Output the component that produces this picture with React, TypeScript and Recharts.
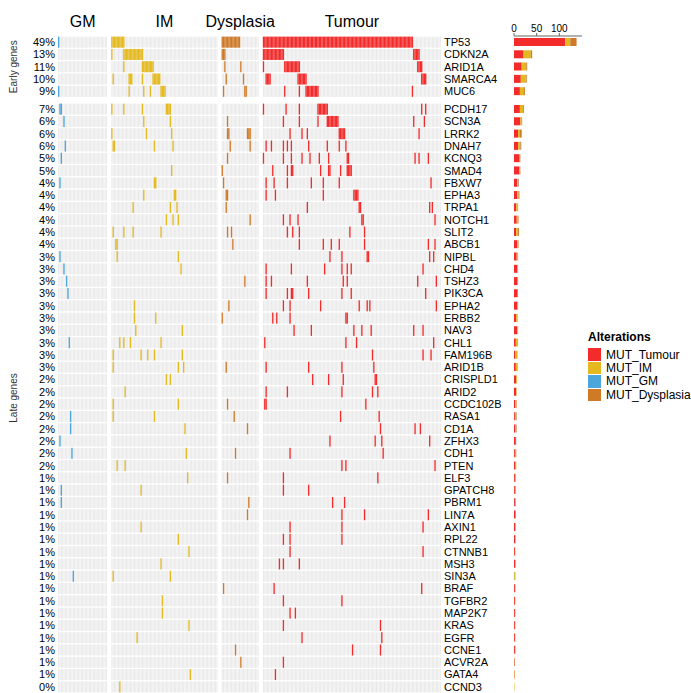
import React from 'react';
import { ScatterChart, Scatter, XAxis, YAxis, BarChart, Bar } from 'recharts';

const genes = [
  'TP53', 'CDKN2A', 'ARID1A', 'SMARCA4', 'MUC6',
  'PCDH17', 'SCN3A', 'LRRK2', 'DNAH7', 'KCNQ3', 'SMAD4', 'FBXW7', 'EPHA3', 'TRPA1', 'NOTCH1',
  'SLIT2', 'ABCB1', 'NIPBL', 'CHD4', 'TSHZ3', 'PIK3CA', 'EPHA2', 'ERBB2', 'NAV3', 'CHL1',
  'FAM196B', 'ARID1B', 'CRISPLD1', 'ARID2', 'CCDC102B', 'RASA1', 'CD1A', 'ZFHX3', 'CDH1', 'PTEN',
  'ELF3', 'GPATCH8', 'PBRM1', 'LIN7A', 'AXIN1', 'RPL22', 'CTNNB1', 'MSH3', 'SIN3A', 'BRAF',
  'TGFBR2', 'MAP2K7', 'KRAS', 'EGFR', 'CCNE1', 'ACVR2A', 'GATA4', 'CCND3',
];
const earlyCount = 5;

const pctLabels = [
  '49%', '13%', '11%', '10%', '9%',
  '7%', '6%', '6%', '6%', '5%', '5%', '4%', '4%', '4%', '4%',
  '4%', '4%', '3%', '3%', '3%', '3%', '3%', '3%', '3%', '3%',
  '3%', '3%', '2%', '2%', '2%', '2%', '2%', '2%', '2%', '2%',
  '1%', '1%', '1%', '1%', '1%', '1%', '1%', '1%', '1%', '1%',
  '1%', '1%', '1%', '1%', '1%', '1%', '1%', '0%',
];

const groupNames = ['GM', 'IM', 'Dysplasia', 'Tumour'];
const groupSizes = [37, 80, 28, 134];

// mutated sample positions inside each group ("a-b" = consecutive block)
const gmMut: [string, string][] = [
  ['TP53', '0'], ['MUC6', '0'], ['PCDH17', '1,2'], ['SCN3A', '4'], ['DNAH7', '5'], ['KCNQ3', '2'],
  ['FBXW7', '1'], ['NIPBL', '1'], ['CHD4', '4'], ['TSHZ3', '6'], ['PIK3CA', '7'], ['CHL1', '8'],
  ['RASA1', '9'], ['CD1A', '9'], ['ZFHX3', '1'], ['CDH1', '10'], ['GPATCH8', '2'], ['PBRM1', '2'],
  ['SIN3A', '11'],
];

const imMut: [string, string][] = [
  ['TP53', '0-9'], ['CDKN2A', '0,9-23'], ['ARID1A', '9,23-31'], ['SMARCA4', '1,13-15,23,31-36'],
  ['MUC6', '13,24,29,37-40'], ['PCDH17', '0,9,23,41-44'], ['SCN3A', '24,44'], ['LRRK2', '0,26,45'],
  ['DNAH7', '1,2,32,46'], ['SMAD4', '45'], ['FBXW7', '32,33'], ['EPHA3', '24,47,48'],
  ['TRPA1', '16,44,49'], ['NOTCH1', '41,46,50'], ['SLIT2', '1,9,16,37'], ['ABCB1', '3,4'],
  ['NIPBL', '4,50'], ['CHD4', '52'], ['EPHA2', '17'], ['ERBB2', '17,33'], ['NAV3', '18,53'],
  ['CHL1', '6,9,14,37'], ['FAM196B', '1,22,27,32,53'], ['ARID1B', '1,50,54'], ['CRISPLD1', '41,44'],
  ['ARID2', '10'], ['CCDC102B', '1,50'], ['RASA1', '1,32'], ['CD1A', '55'], ['CDH1', '56'],
  ['PTEN', '4,10'], ['ELF3', '57'], ['GPATCH8', '22'], ['AXIN1', '22'], ['RPL22', '50'],
  ['CTNNB1', '58'], ['MSH3', '37'], ['SIN3A', '1,44'], ['TGFBR2', '38'], ['MAP2K7', '38'],
  ['KRAS', '58'], ['EGFR', '19'], ['GATA4', '59'], ['CCND3', '6'],
];

const dysMut: [string, string][] = [
  ['TP53', '0-13'], ['CDKN2A', '0-2'], ['ARID1A', '2,14'], ['SMARCA4', '3,16'], ['MUC6', '1,17,18'],
  ['SCN3A', '4'], ['LRRK2', '4,5,19-21'], ['DNAH7', '6,21'], ['KCNQ3', '4'], ['SMAD4', '0'],
  ['FBXW7', '1'], ['EPHA3', '3,4'], ['TRPA1', '3'], ['NOTCH1', '21'], ['SLIT2', '4,7'], ['ABCB1', '8'],
  ['TSHZ3', '17'], ['EPHA2', '5'], ['ERBB2', '0'], ['ARID1B', '3'], ['CCDC102B', '4'], ['RASA1', '9'],
  ['CD1A', '19'], ['CDH1', '10'], ['ELF3', '4'], ['PBRM1', '20'], ['LIN7A', '19'], ['BRAF', '1'],
  ['CCNE1', '10'], ['ACVR2A', '14'],
];

const tumourMut: [string, string][] = [
  ['TP53', '0-112'], ['CDKN2A', '0-15,113-117'], ['ARID1A', '0,16-27,116-119'],
  ['SMARCA4', '2-5,26-32,119-122'], ['MUC6', '16,27,32-41,112'],
  ['PCDH17', '0,17,27,41-48,119,122'], ['SCN3A', '15,27,41,48-56,113,121'],
  ['LRRK2', '20,29,33,57-61,117'], ['DNAH7', '2,6,15,18,21,34,48,57,62'],
  ['KCNQ3', '0,15,21,29,35,42,49,63,64,114,117,124'], ['SMAD4', '7,18,21,22,43,49,50,58,63-66'],
  ['FBXW7', '2,8,18,36,45,57,126'], ['EPHA3', '2,9,45,68-71'], ['TRPA1', '33,72,73,125,127'],
  ['NOTCH1', '15,20,26,74,75,129'], ['SLIT2', '18,22,27,65,76'], ['ABCB1', '27,45,51,57,76,124,129'],
  ['NIPBL', '50,59,78,79,125,128'], ['CHD4', '2,21,46,59,63,66,120'], ['TSHZ3', '2,6,33,60,63,116,130'],
  ['PIK3CA', '2,18,21,22,34,59,66,122'], ['EPHA2', '15,20,43,72,78,80,130'], ['ERBB2', '7,10,20,62,63'],
  ['NAV3', '23,36,68,74,81,113,120'], ['CHL1', '1,62,70,128'], ['FAM196B', '82,120,126'],
  ['ARID1B', '2,34,59,83'], ['CRISPLD1', '37,49,60,84,85'], ['ARID2', '2,18,59,82,86'],
  ['CCDC102B', '1,2,77'], ['RASA1', '58,87'], ['CD1A', '88,114,118'], ['ZFHX3', '50,84,89,125'],
  ['CDH1', '20,90'], ['PTEN', '59,62,129'], ['ELF3', '15,86'], ['GPATCH8', '15,34'], ['PBRM1', '52,61'],
  ['LIN7A', '59,76,124'], ['AXIN1', '20,59,120'], ['RPL22', '15,20,59'], ['CTNNB1', '20,120'],
  ['MSH3', '12,15,27'], ['BRAF', '8,119'], ['TGFBR2', '15,59'], ['MAP2K7', '20,24'], ['KRAS', '15,88'],
  ['EGFR', '29,89'], ['CCNE1', '67,88'], ['ACVR2A', '15'], ['GATA4', '9'],
];

const COLORS = { Tumour: '#f32b2b', IM: '#e4b91f', GM: '#4aa6dc', Dysplasia: '#cf7a27' };
const FONT = '"Liberation Sans", Arial, Helvetica, sans-serif';

const GAP = 3;
const ROW_GAP = 0.45;
const TOP = 36;
const HEIGHT = 693;
const PLOT_W = 383;
const ROW_H = (HEIGHT - TOP) / (genes.length + ROW_GAP);
const CELL_H = ROW_H - 1.3;
const LABEL_SIZE = 11;

const parseSpec = (spec: string) =>
  spec.split(',').flatMap(part => {
    const [a, b] = part.split('-').map(Number);
    return b === undefined ? [a] : Array.from({ length: b - a + 1 }, (_, k) => a + k);
  });

const groupOffsets = groupSizes.map((_, g) => groupSizes.slice(0, g).reduce((s, v) => s + v, 0) + GAP * g);
const xMax = groupOffsets[3] + groupSizes[3] - 0.5;
const COL_W = PLOT_W / (xMax + 0.5);
const groupCenters = groupSizes.map((n, g) => groupOffsets[g] + (n - 1) / 2);

const rowY = (i: number) => (i < earlyCount ? i : i + ROW_GAP);
const rowTicks = genes.map((_, i) => rowY(i));
const yDomain = [-0.5, genes.length - 0.5 + ROW_GAP];

const toPoints = (list: [string, string][], g: number) =>
  list.flatMap(([gene, spec]) =>
    parseSpec(spec).map(idx => ({ x: groupOffsets[g] + idx, y: rowY(genes.indexOf(gene)) })));

const bgPoints = genes.flatMap((_, i) =>
  groupSizes.flatMap((n, g) => Array.from({ length: n }, (_, k) => ({ x: groupOffsets[g] + k, y: rowY(i) }))));

const countFor = (list: [string, string][], gene: string) => {
  const hit = list.find(([g]) => g === gene);
  return hit ? parseSpec(hit[1]).length : 0;
};

const barData = genes.map(gene => ({
  gene,
  Tumour: countFor(tumourMut, gene),
  IM: countFor(imMut, gene),
  GM: countFor(gmMut, gene),
  Dysplasia: countFor(dysMut, gene),
}));

const cell = (fill: string, w: number) => (props: any) => (
  <rect x={props.cx - w / 2} y={props.cy - CELL_H / 2} width={w} height={CELL_H} fill={fill} />
);

const series: { key: keyof typeof COLORS; list: [string, string][]; g: number }[] = [
  { key: 'GM', list: gmMut, g: 0 },
  { key: 'IM', list: imMut, g: 1 },
  { key: 'Dysplasia', list: dysMut, g: 2 },
  { key: 'Tumour', list: tumourMut, g: 3 },
];

const barKeys: (keyof typeof COLORS)[] = ['Tumour', 'IM', 'GM', 'Dysplasia'];

const MutBars = ({ data, top, height, showAxis }: { data: any[]; top: number; height: number; showAxis: boolean }) => (
  <div style={{ position: 'absolute', left: 506, top }}>
    <BarChart
      width={90}
      height={height}
      data={data}
      layout="vertical"
      margin={{ top: 0, right: 14, bottom: 0, left: 8 }}
      barSize={8}
    >
      <XAxis
        type="number"
        orientation="top"
        domain={[0, 150]}
        ticks={[0, 50, 100]}
        hide={!showAxis}
        height={TOP}
        tickSize={3}
        tickMargin={1}
        stroke="#666"
        tick={{ fontSize: 10, fill: '#000', fontFamily: FONT }}
        interval={0}
      />
      <YAxis type="category" dataKey="gene" hide />
      {barKeys.map(k => (
        <Bar key={k} dataKey={k} stackId="a" fill={COLORS[k]} isAnimationActive={false} />
      ))}
    </BarChart>
  </div>
);

export default function App() {
  return (
    <div style={{ position: 'absolute', left: 0, top: 0, width: 691, height: 693, overflow: 'hidden', background: '#fff', fontFamily: FONT }}>
      <svg width={30} height={HEIGHT} style={{ position: 'absolute', left: 0, top: 0 }}>
        <text transform={`translate(17, ${TOP + (earlyCount * ROW_H) / 2}) rotate(-90)`} textAnchor="middle" fontSize={10} fill="#333" fontFamily={FONT}>
          Early genes
        </text>
        <text transform={`translate(17, ${TOP + (earlyCount + ROW_GAP) * ROW_H + ((genes.length - earlyCount) * ROW_H) / 2}) rotate(-90)`} textAnchor="middle" fontSize={10} fill="#333" fontFamily={FONT}>
          Late genes
        </text>
      </svg>

      <div style={{ position: 'absolute', left: 0, top: 0 }}>
        <ScatterChart width={510} height={HEIGHT} margin={{ top: 0, right: 0, bottom: 0, left: 0 }}>
          <XAxis
            type="number"
            dataKey="x"
            orientation="top"
            domain={[-0.5, xMax]}
            ticks={groupCenters}
            interval={0}
            height={TOP}
            axisLine={false}
            tickLine={false}
            tickSize={0}
            tickMargin={9}
            tickFormatter={(_: any, i: number) => groupNames[i]}
            tick={{ fontSize: 16, fill: '#000', fontFamily: FONT }}
            allowDataOverflow
          />
          <YAxis
            yAxisId="left"
            type="number"
            dataKey="y"
            orientation="left"
            reversed
            domain={yDomain}
            ticks={rowTicks}
            interval={0}
            width={58}
            axisLine={false}
            tickLine={false}
            tickSize={0}
            tickMargin={3}
            tickFormatter={(_: any, i: number) => pctLabels[i]}
            tick={{ fontSize: LABEL_SIZE, fill: '#000', fontFamily: FONT }}
            allowDataOverflow
          />
          <YAxis
            yAxisId="right"
            type="number"
            dataKey="y"
            orientation="right"
            reversed
            domain={yDomain}
            ticks={rowTicks}
            interval={0}
            width={69}
            axisLine={false}
            tickLine={false}
            tickSize={0}
            tickMargin={3}
            tickFormatter={(_: any, i: number) => genes[i]}
            tick={{ fontSize: LABEL_SIZE, fill: '#000', fontFamily: FONT, textAnchor: 'start' }}
            allowDataOverflow
          />
          <Scatter yAxisId="right" data={bgPoints} fill="#e9e9e9" shape={cell('#e9e9e9', COL_W - 0.35)} isAnimationActive={false} />
          {series.map(s => (
            <Scatter
              key={s.key}
              yAxisId="left"
              name={`MUT_${s.key}`}
              data={toPoints(s.list, s.g)}
              fill={COLORS[s.key]}
              shape={cell(COLORS[s.key], COL_W)}
              isAnimationActive={false}
            />
          ))}
        </ScatterChart>
      </div>

      <MutBars data={barData.slice(0, earlyCount)} top={0} height={TOP + earlyCount * ROW_H} showAxis />
      <MutBars
        data={barData.slice(earlyCount)}
        top={TOP + (earlyCount + ROW_GAP) * ROW_H}
        height={(genes.length - earlyCount) * ROW_H}
        showAxis={false}
      />

      <div style={{ position: 'absolute', left: 588, top: 330, fontSize: 12, color: '#000' }}>
        <div style={{ fontWeight: 'bold', marginBottom: 4 }}>Alterations</div>
        {barKeys.map(k => (
          <div key={k} style={{ display: 'flex', alignItems: 'center', height: 13.4 }}>
            <span style={{ display: 'inline-block', width: 13, height: 12.5, background: COLORS[k], marginRight: 5 }} />
            <span>MUT_{k}</span>
          </div>
        ))}
      </div>
    </div>
  );
}
